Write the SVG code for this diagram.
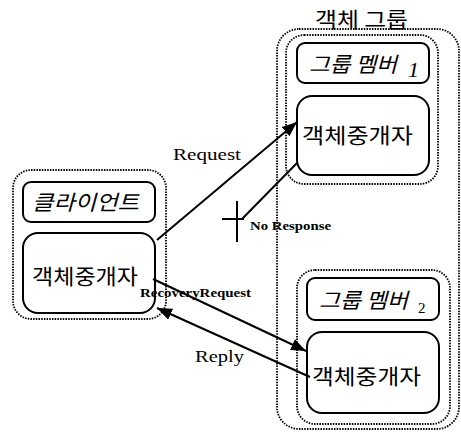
<svg xmlns="http://www.w3.org/2000/svg" width="461" height="432" viewBox="0 0 461 432">
<style>
.dot{fill:none;stroke:#000;stroke-width:1.8;stroke-dasharray:1.5 1.2}
.box{fill:#fff;stroke:#000;stroke-width:2}
.ko{font-family:"Noto Sans CJK KR","Noto Sans",sans-serif;font-size:21px;fill:#000}
.it{font-style:italic}
.en{font-family:"Liberation Serif",serif;fill:#000}
.lb{font-family:"Liberation Serif",serif;font-weight:bold;font-size:12.5px;fill:#000}
.ln{stroke:#000;stroke-width:2;fill:none}
</style>
<defs>
<marker id="ah" markerUnits="userSpaceOnUse" markerWidth="16" markerHeight="12" refX="15" refY="6" orient="auto">
<path d="M0,0 L15,6 L0,12 z" fill="#000"/>
</marker>
</defs>
<rect width="461" height="432" fill="#fff"/>
<g id="group">
<rect class="dot" x="277" y="29" width="182" height="400" rx="22"/>
<text class="ko" x="315" y="27" textLength="93" lengthAdjust="spacingAndGlyphs">객체 그룹</text>
</g>
<g id="member1">
<rect class="dot" x="286" y="35" width="152" height="149" rx="18"/>
<rect class="box" x="297" y="43" width="132" height="40" rx="8"/>
<text class="ko it" x="309" y="72" font-size="20" textLength="88" lengthAdjust="spacingAndGlyphs">그룹 멤버</text>
<text class="en it" x="408" y="77" font-size="22">1</text>
<rect class="box" x="297" y="96" width="132" height="79" rx="15"/>
<text class="ko" x="302" y="143" textLength="111" lengthAdjust="spacingAndGlyphs">객체중개자</text>
</g>
<g id="member2">
<rect class="dot" x="297" y="270" width="153" height="154" rx="18"/>
<rect class="box" x="307" y="278" width="132" height="42" rx="8"/>
<text class="ko it" x="319" y="308" font-size="20" textLength="89" lengthAdjust="spacingAndGlyphs">그룹 멤버</text>
<text class="en" x="418" y="313" font-size="15">2</text>
<rect class="box" x="307" y="332" width="132" height="81" rx="15"/>
<text class="ko" x="312" y="384" textLength="109" lengthAdjust="spacingAndGlyphs">객체중개자</text>
</g>
<g id="client">
<rect class="dot" x="13" y="170" width="153" height="149" rx="18"/>
<rect class="box" x="23" y="182" width="132" height="40" rx="8"/>
<text class="ko it" x="32" y="210" font-size="19" textLength="107" lengthAdjust="spacingAndGlyphs">클라이언트</text>
<rect class="box" x="23" y="233" width="132" height="80" rx="15"/>
<text class="ko" x="32" y="284" textLength="106" lengthAdjust="spacingAndGlyphs">객체중개자</text>
</g>
<g id="connectors">
<line class="ln" x1="157" y1="240" x2="297" y2="122" marker-end="url(#ah)"/>
<line class="ln" x1="297" y1="163" x2="242" y2="219"/>
<line class="ln" x1="237" y1="201" x2="237" y2="242"/>
<line class="ln" x1="222" y1="219" x2="244" y2="219"/>
<line class="ln" x1="153" y1="279" x2="306" y2="351" marker-end="url(#ah)"/>
<line class="ln" x1="310" y1="377" x2="157" y2="308" marker-end="url(#ah)"/>
<text class="en" x="173" y="160" font-size="17" textLength="68" lengthAdjust="spacingAndGlyphs">Request</text>
<text class="lb" x="250" y="230" textLength="81" lengthAdjust="spacingAndGlyphs">No Response</text>
<text class="lb" x="140" y="297" textLength="111" lengthAdjust="spacingAndGlyphs">RecoveryRequest</text>
<text class="en" x="195" y="362" font-size="17" textLength="49" lengthAdjust="spacingAndGlyphs">Reply</text>
</g>
</svg>
